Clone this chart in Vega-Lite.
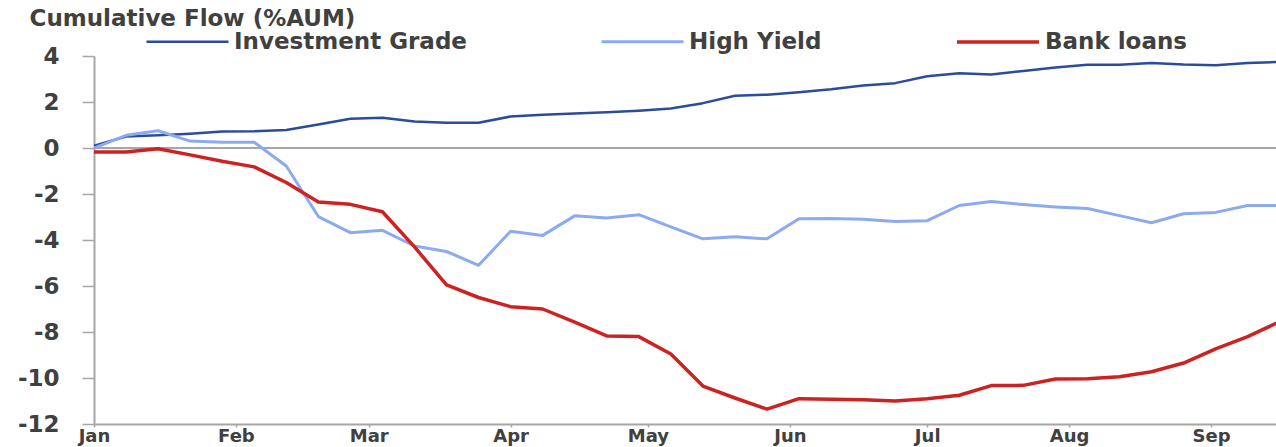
{
  "$schema": "https://vega.github.io/schema/vega-lite/v6.json",
  "width": 1182,
  "height": 368,
  "autosize": {"type": "none"},
  "padding": {"top": 56, "left": 94, "right": 0, "bottom": 23},
  "background": "white",
  "config": {
    "view": {"stroke": null},
    "font": "DejaVu Sans",
    "axis": {
      "labelFont": "DejaVu Sans",
      "labelFontSize": 23,
      "labelFontWeight": "bold",
      "labelColor": "#404040",
      "domainColor": "#a6a6a6",
      "domainWidth": 2,
      "tickColor": "#a6a6a6",
      "tickWidth": 1.5,
      "grid": false,
      "labelFlush": false,
      "labelOverlap": false
    }
  },
  "data": {
    "values": [
      {"date": "2020-01-01", "Investment Grade": 0.1, "High Yield": 0.0, "Bank loans": -0.17},
      {"date": "2020-01-08", "Investment Grade": 0.5, "High Yield": 0.55, "Bank loans": -0.17},
      {"date": "2020-01-15", "Investment Grade": 0.55, "High Yield": 0.75, "Bank loans": -0.03},
      {"date": "2020-01-22", "Investment Grade": 0.62, "High Yield": 0.3, "Bank loans": -0.3},
      {"date": "2020-01-29", "Investment Grade": 0.72, "High Yield": 0.25, "Bank loans": -0.58},
      {"date": "2020-02-05", "Investment Grade": 0.73, "High Yield": 0.25, "Bank loans": -0.82},
      {"date": "2020-02-12", "Investment Grade": 0.78, "High Yield": -0.78, "Bank loans": -1.5},
      {"date": "2020-02-19", "Investment Grade": 1.02, "High Yield": -2.98, "Bank loans": -2.35},
      {"date": "2020-02-26", "Investment Grade": 1.27, "High Yield": -3.68, "Bank loans": -2.45},
      {"date": "2020-03-04", "Investment Grade": 1.32, "High Yield": -3.58, "Bank loans": -2.77},
      {"date": "2020-03-11", "Investment Grade": 1.15, "High Yield": -4.26, "Bank loans": -4.3},
      {"date": "2020-03-18", "Investment Grade": 1.1, "High Yield": -4.5, "Bank loans": -5.95},
      {"date": "2020-03-25", "Investment Grade": 1.1, "High Yield": -5.1, "Bank loans": -6.5},
      {"date": "2020-04-01", "Investment Grade": 1.37, "High Yield": -3.62, "Bank loans": -6.9},
      {"date": "2020-04-08", "Investment Grade": 1.45, "High Yield": -3.8, "Bank loans": -7.0},
      {"date": "2020-04-15", "Investment Grade": 1.5, "High Yield": -2.95, "Bank loans": -7.57},
      {"date": "2020-04-22", "Investment Grade": 1.55, "High Yield": -3.04, "Bank loans": -8.17},
      {"date": "2020-04-29", "Investment Grade": 1.62, "High Yield": -2.9, "Bank loans": -8.2},
      {"date": "2020-05-06", "Investment Grade": 1.72, "High Yield": -3.43, "Bank loans": -8.96},
      {"date": "2020-05-13", "Investment Grade": 1.95, "High Yield": -3.95, "Bank loans": -10.35},
      {"date": "2020-05-20", "Investment Grade": 2.27, "High Yield": -3.86, "Bank loans": -10.87},
      {"date": "2020-05-27", "Investment Grade": 2.32, "High Yield": -3.95, "Bank loans": -11.35},
      {"date": "2020-06-03", "Investment Grade": 2.42, "High Yield": -3.08, "Bank loans": -10.9},
      {"date": "2020-06-10", "Investment Grade": 2.55, "High Yield": -3.07, "Bank loans": -10.92},
      {"date": "2020-06-17", "Investment Grade": 2.72, "High Yield": -3.1, "Bank loans": -10.95},
      {"date": "2020-06-24", "Investment Grade": 2.82, "High Yield": -3.2, "Bank loans": -11.0},
      {"date": "2020-07-01", "Investment Grade": 3.12, "High Yield": -3.16, "Bank loans": -10.9},
      {"date": "2020-07-08", "Investment Grade": 3.25, "High Yield": -2.5, "Bank loans": -10.75},
      {"date": "2020-07-15", "Investment Grade": 3.2, "High Yield": -2.33, "Bank loans": -10.33},
      {"date": "2020-07-22", "Investment Grade": 3.35, "High Yield": -2.46, "Bank loans": -10.32},
      {"date": "2020-07-29", "Investment Grade": 3.5, "High Yield": -2.56, "Bank loans": -10.04},
      {"date": "2020-08-05", "Investment Grade": 3.62, "High Yield": -2.63, "Bank loans": -10.03},
      {"date": "2020-08-12", "Investment Grade": 3.62, "High Yield": -2.94, "Bank loans": -9.95},
      {"date": "2020-08-19", "Investment Grade": 3.7, "High Yield": -3.25, "Bank loans": -9.73},
      {"date": "2020-08-26", "Investment Grade": 3.63, "High Yield": -2.86, "Bank loans": -9.35},
      {"date": "2020-09-02", "Investment Grade": 3.6, "High Yield": -2.8, "Bank loans": -8.73},
      {"date": "2020-09-09", "Investment Grade": 3.7, "High Yield": -2.5, "Bank loans": -8.2},
      {"date": "2020-09-16", "Investment Grade": 3.74, "High Yield": -2.5, "Bank loans": -7.55}
    ]
  },
  "layer": [
    {
      "mark": {"type": "rule", "color": "#a6a6a6", "strokeWidth": 2},
      "encoding": {"y": {"datum": 0, "type": "quantitative", "scale": {"domain": [-12, 4]}}}
    },
    {
      "transform": [
        {"fold": ["Investment Grade", "High Yield", "Bank loans"], "as": ["series", "flow"]}
      ],
      "mark": {"type": "line", "clip": true, "strokeJoin": "round", "strokeCap": "butt"},
      "encoding": {
        "x": {
          "field": "date",
          "type": "temporal",
          "scale": {
            "type": "utc",
            "domain": [
              {"year": 2020, "month": "jan", "date": 1, "utc": true},
              {"year": 2020, "month": "sep", "date": 15, "hours": 4, "minutes": 30, "utc": true}
            ]
          },
          "axis": {
            "title": null,
            "format": "%b",
            "tickCount": {"interval": "month", "step": 1},
            "tickSize": 3,
            "labelPadding": 0,
            "labelFontSize": 18,
            "labelBaseline": "top"
          }
        },
        "y": {
          "field": "flow",
          "type": "quantitative",
          "scale": {"domain": [-12, 4], "nice": false},
          "axis": {
            "values": [-12, -10, -8, -6, -4, -2, 0, 2, 4],
            "labelExpr": "'' + datum.value",
            "tickSize": 12,
            "labelPadding": 23,
            "title": "Cumulative Flow (%AUM)",
            "titleAngle": 0,
            "titleAlign": "left",
            "titleBaseline": "alphabetic",
            "titleX": -65,
            "titleY": -31,
            "titleFont": "DejaVu Sans",
            "titleFontSize": 23,
            "titleFontWeight": "bold",
            "titleColor": "#404040"
          }
        },
        "color": {
          "field": "series",
          "type": "nominal",
          "sort": ["Investment Grade", "High Yield", "Bank loans"],
          "scale": {
            "domain": ["Investment Grade", "High Yield", "Bank loans"],
            "range": ["#2b4c9c", "#8caaf0", "#cc2222"]
          },
          "legend": {
            "title": null,
            "orient": "none",
            "legendX": 51,
            "legendY": -57,
            "direction": "horizontal",
            "symbolType": "stroke",
            "symbolSize": 6724,
            "symbolStrokeWidth": 2.5,
            "labelFont": "DejaVu Sans",
            "labelFontSize": 23,
            "labelFontWeight": "bold",
            "labelColor": "#404040",
            "labelLimit": 500,
            "labelOffset": 4,
            "columnPadding": 128
          }
        },
        "strokeWidth": {
          "field": "series",
          "type": "nominal",
          "scale": {
            "domain": ["Investment Grade", "High Yield", "Bank loans"],
            "range": [2.5, 3.5, 3]
          },
          "legend": null
        }
      }
    }
  ]
}
